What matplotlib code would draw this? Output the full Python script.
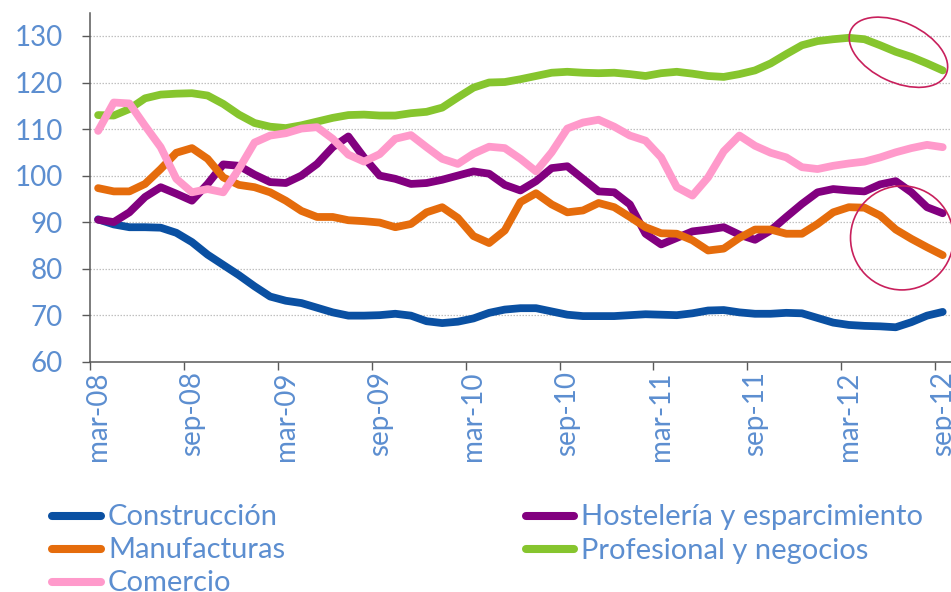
import matplotlib
matplotlib.use('Agg')
import matplotlib.pyplot as plt
from matplotlib.patches import Ellipse
from matplotlib.lines import Line2D
from matplotlib.transforms import ScaledTranslation
import numpy as np

# ---------------- data ----------------
tick_labels = ['mar-08', 'sep-08', 'mar-09', 'sep-09', 'mar-10',
               'sep-10', 'mar-11', 'sep-11', 'mar-12', 'sep-12']

construccion = [90.6, 89.5, 88.9, 88.9, 88.8, 87.7, 85.7, 83.0, 80.8, 78.6,
                76.2, 74.0, 73.1, 72.6, 71.6, 70.6, 69.9, 69.9, 70.0, 70.3,
                69.9, 68.7, 68.3, 68.6, 69.3, 70.5, 71.2, 71.5, 71.5, 70.8,
                70.1, 69.8, 69.8, 69.8, 70.0, 70.2, 70.1, 70.0, 70.4, 71.0,
                71.1, 70.6, 70.3, 70.3, 70.5, 70.4, 69.4, 68.4, 67.9, 67.7,
                67.6, 67.4, 68.5, 69.9, 70.7]

hosteleria = [90.5, 90.0, 92.1, 95.4, 97.5, 96.1, 94.6, 98.2, 102.4, 102.1,
              100.2, 98.6, 98.4, 100.0, 102.5, 106.1, 108.4, 103.9, 100.0, 99.3,
              98.2, 98.4, 99.1, 100.0, 100.9, 100.4, 98.0, 96.8, 98.8, 101.6,
              102.0, 99.3, 96.6, 96.4, 93.8, 87.5, 85.2, 86.6, 88.0, 88.4,
              88.9, 87.3, 86.2, 88.2, 91.1, 93.9, 96.4, 97.1, 96.8, 96.6,
              98.1, 98.8, 96.4, 93.2, 91.9]

manufacturas = [97.3, 96.6, 96.6, 98.2, 101.4, 104.9, 105.9, 103.6, 99.6, 98.0,
                97.5, 96.4, 94.6, 92.4, 91.1, 91.1, 90.4, 90.2, 89.9, 88.9,
                89.6, 92.1, 93.2, 90.9, 87.0, 85.5, 88.2, 94.3, 96.2, 93.8,
                92.1, 92.5, 94.1, 93.2, 91.1, 88.9, 87.6, 87.5, 86.1, 83.9,
                84.3, 86.6, 88.4, 88.4, 87.5, 87.5, 89.6, 92.1, 93.2, 93.1,
                91.4, 88.4, 86.4, 84.6, 82.9]

profesional = [113.0, 112.9, 114.3, 116.6, 117.4, 117.6, 117.7, 117.2, 115.4, 113.1,
               111.3, 110.5, 110.2, 110.8, 111.6, 112.4, 113.0, 113.1, 112.9, 112.9,
               113.4, 113.7, 114.6, 116.8, 118.9, 120.0, 120.1, 120.7, 121.4, 122.1,
               122.3, 122.1, 122.0, 122.1, 121.8, 121.4, 122.0, 122.3, 121.9, 121.4,
               121.2, 121.8, 122.6, 124.1, 126.1, 128.0, 128.9, 129.3, 129.6, 129.3,
               128.0, 126.6, 125.5, 124.1, 122.6]

comercio = [109.6, 115.7, 115.5, 110.7, 106.1, 99.3, 96.4, 97.1, 96.4, 101.4,
            107.1, 108.6, 109.1, 110.1, 110.4, 107.9, 104.5, 103.0, 104.6, 107.9,
            108.7, 106.1, 103.6, 102.5, 104.7, 106.2, 105.9, 103.6, 100.9, 105.0,
            110.1, 111.4, 112.0, 110.5, 108.6, 107.5, 103.9, 97.5, 95.7, 99.6,
            105.2, 108.6, 106.4, 104.9, 103.9, 101.8, 101.4, 102.1, 102.6, 103.0,
            103.9, 105.0, 105.9, 106.6, 106.1]

series_names = ['Construcción', 'Hostelería y esparcimiento', 'Manufacturas',
                'Profesional y negocios', 'Comercio']
series_values = [construccion, hosteleria, manufacturas, profesional, comercio]
series_colors = ['#0A50A2', '#82007F', '#E56C0C', '#86C52E', '#FF9ACB']

# ---------------- style ----------------
W, H = 951, 592
TXT = '#5C8ED0'
FONT = ['Lato', 'DejaVu Sans']
plt.rcParams['font.family'] = FONT

fig = plt.figure(figsize=(W / 100, H / 100), dpi=100)
ax_left, ax_right, ax_top, ax_bot = 90.3, 950.5, 12.7, 361.7
ax = fig.add_axes([ax_left / W, 1 - ax_bot / H,
                   (ax_right - ax_left) / W, (ax_bot - ax_top) / H])

n = len(construccion)
x = np.arange(n)
for i, (name, vals, col) in enumerate(zip(series_names, series_values, series_colors)):
    ax.plot(x, vals, color=col, lw=5.6, solid_joinstyle='round',
            solid_capstyle='round', zorder=3 + i, clip_on=False)

ax.set_xlim(-0.5, n - 0.5)
ax.set_ylim(60, 135)

# y axis
ax.set_yticks(np.arange(60, 131, 10))
ax.tick_params(axis='y', which='major', direction='out', length=6,
               width=1.0, color='#595959', labelsize=20, labelcolor=TXT, pad=13.5)

# x axis: labels at every 6th category, tick marks between categories
label_pos = np.arange(0, n, 6)
ax.set_xticks(label_pos)
ax.set_xticklabels(tick_labels, rotation=90, fontsize=20, color=TXT)
ax.tick_params(axis='x', which='major', length=0, pad=7)
ax.set_xticks(np.arange(-0.5, n - 0.5, 6), minor=True)
ax.tick_params(axis='x', which='minor', direction='out', length=6,
               width=1.0, color='#595959')

for s in ['top', 'right']:
    ax.spines[s].set_visible(False)
for s in ['left', 'bottom']:
    ax.spines[s].set_color('#595959')
    ax.spines[s].set_linewidth(1.1)

for v in range(70, 131, 10):
    ax.axhline(v, color='#C0C0C0', lw=0.9, ls=(0, (1.2, 1.2)), zorder=1)

# highlight ellipses (sizes in inches, centred on data positions)
ell_specs = [((51.17, 126.5), 1.05, 0.60, -25),
             ((51.4, 86.6), 1.03, 1.04, 0)]
for (cx, cy), w, h, ang in ell_specs:
    tr = fig.dpi_scale_trans + ScaledTranslation(cx, cy, ax.transData)
    e = Ellipse((0, 0), w, h, angle=ang, transform=tr, fill=False,
                edgecolor='#C8205C', lw=1.2, clip_on=False, zorder=10)
    ax.add_artist(e)

# legend (two columns, column-first order like the source)
leg_order = [0, 2, 4, 1, 3]
col_x = [(52, 101, 108), (526, 574, 581)]
row_base = [525, 558.5, 591]
k = 0
for c, count in enumerate([3, 2]):
    for r in range(count):
        idx = leg_order[k]
        k += 1
        x0, x1, xt = col_x[c]
        yb = row_base[r]
        yl = yb - 9.5
        fig.add_artist(Line2D([x0 / W, x1 / W], [1 - yl / H, 1 - yl / H],
                              color=series_colors[idx], lw=5.8,
                              solid_capstyle='round', transform=fig.transFigure))
        fig.text(xt / W, 1 - yb / H, series_names[idx], fontsize=21,
                 color=TXT, ha='left', va='baseline')

fig.savefig('out.png', dpi=100)
